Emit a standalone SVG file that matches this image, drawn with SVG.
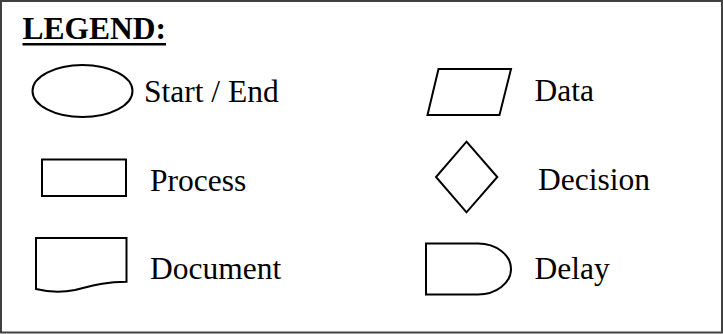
<svg xmlns="http://www.w3.org/2000/svg" width="723" height="334" viewBox="0 0 723 334">
  <style>
    .shape { fill: #ffffff; stroke: #000000; stroke-width: 2; }
    .label { font-family: "Liberation Serif", "Times New Roman", serif; font-size: 31.5px; fill: #000000; }
    .title { font-family: "Liberation Serif", "Times New Roman", serif; font-size: 31.5px; font-weight: bold; fill: #000000; }
  </style>
  <rect x="0" y="0" width="723" height="334" fill="#ffffff"/>
  <rect x="1" y="1" width="721" height="331.5" fill="none" stroke="#404040" stroke-width="2"/>
  <g id="title">
    <text class="title" x="22.5" y="38.5">LEGEND:</text>
    <rect x="22.5" y="43" width="143.5" height="2.5" fill="#000000"/>
  </g>
  <g id="connectors"></g>
  <g id="start-end">
    <ellipse class="shape" cx="82.5" cy="91" rx="50" ry="26"/>
    <text class="label" x="144" y="101.5">Start / End</text>
  </g>
  <g id="process">
    <rect class="shape" x="42" y="159.5" width="84" height="36.5"/>
    <text class="label" x="150" y="191">Process</text>
  </g>
  <g id="document">
    <path class="shape" d="M36,238 H126.5 V281.7 C105,282 95,285 75,290 C60,293 48,292 36,289 Z"/>
    <text class="label" x="150" y="278.5">Document</text>
  </g>
  <g id="data">
    <polygon class="shape" points="438.5,69 511,69 499.5,115 427.5,115"/>
    <text class="label" x="534.5" y="101">Data</text>
  </g>
  <g id="decision">
    <polygon class="shape" points="466.5,141.7 497.3,177 466.5,212.3 436,177"/>
    <text class="label" x="538" y="190">Decision</text>
  </g>
  <g id="delay">
    <path class="shape" d="M426,243.5 H478 A33,25.5 0 0 1 478,294.5 H426 Z"/>
    <text class="label" x="534.5" y="278.5">Delay</text>
  </g>
</svg>
